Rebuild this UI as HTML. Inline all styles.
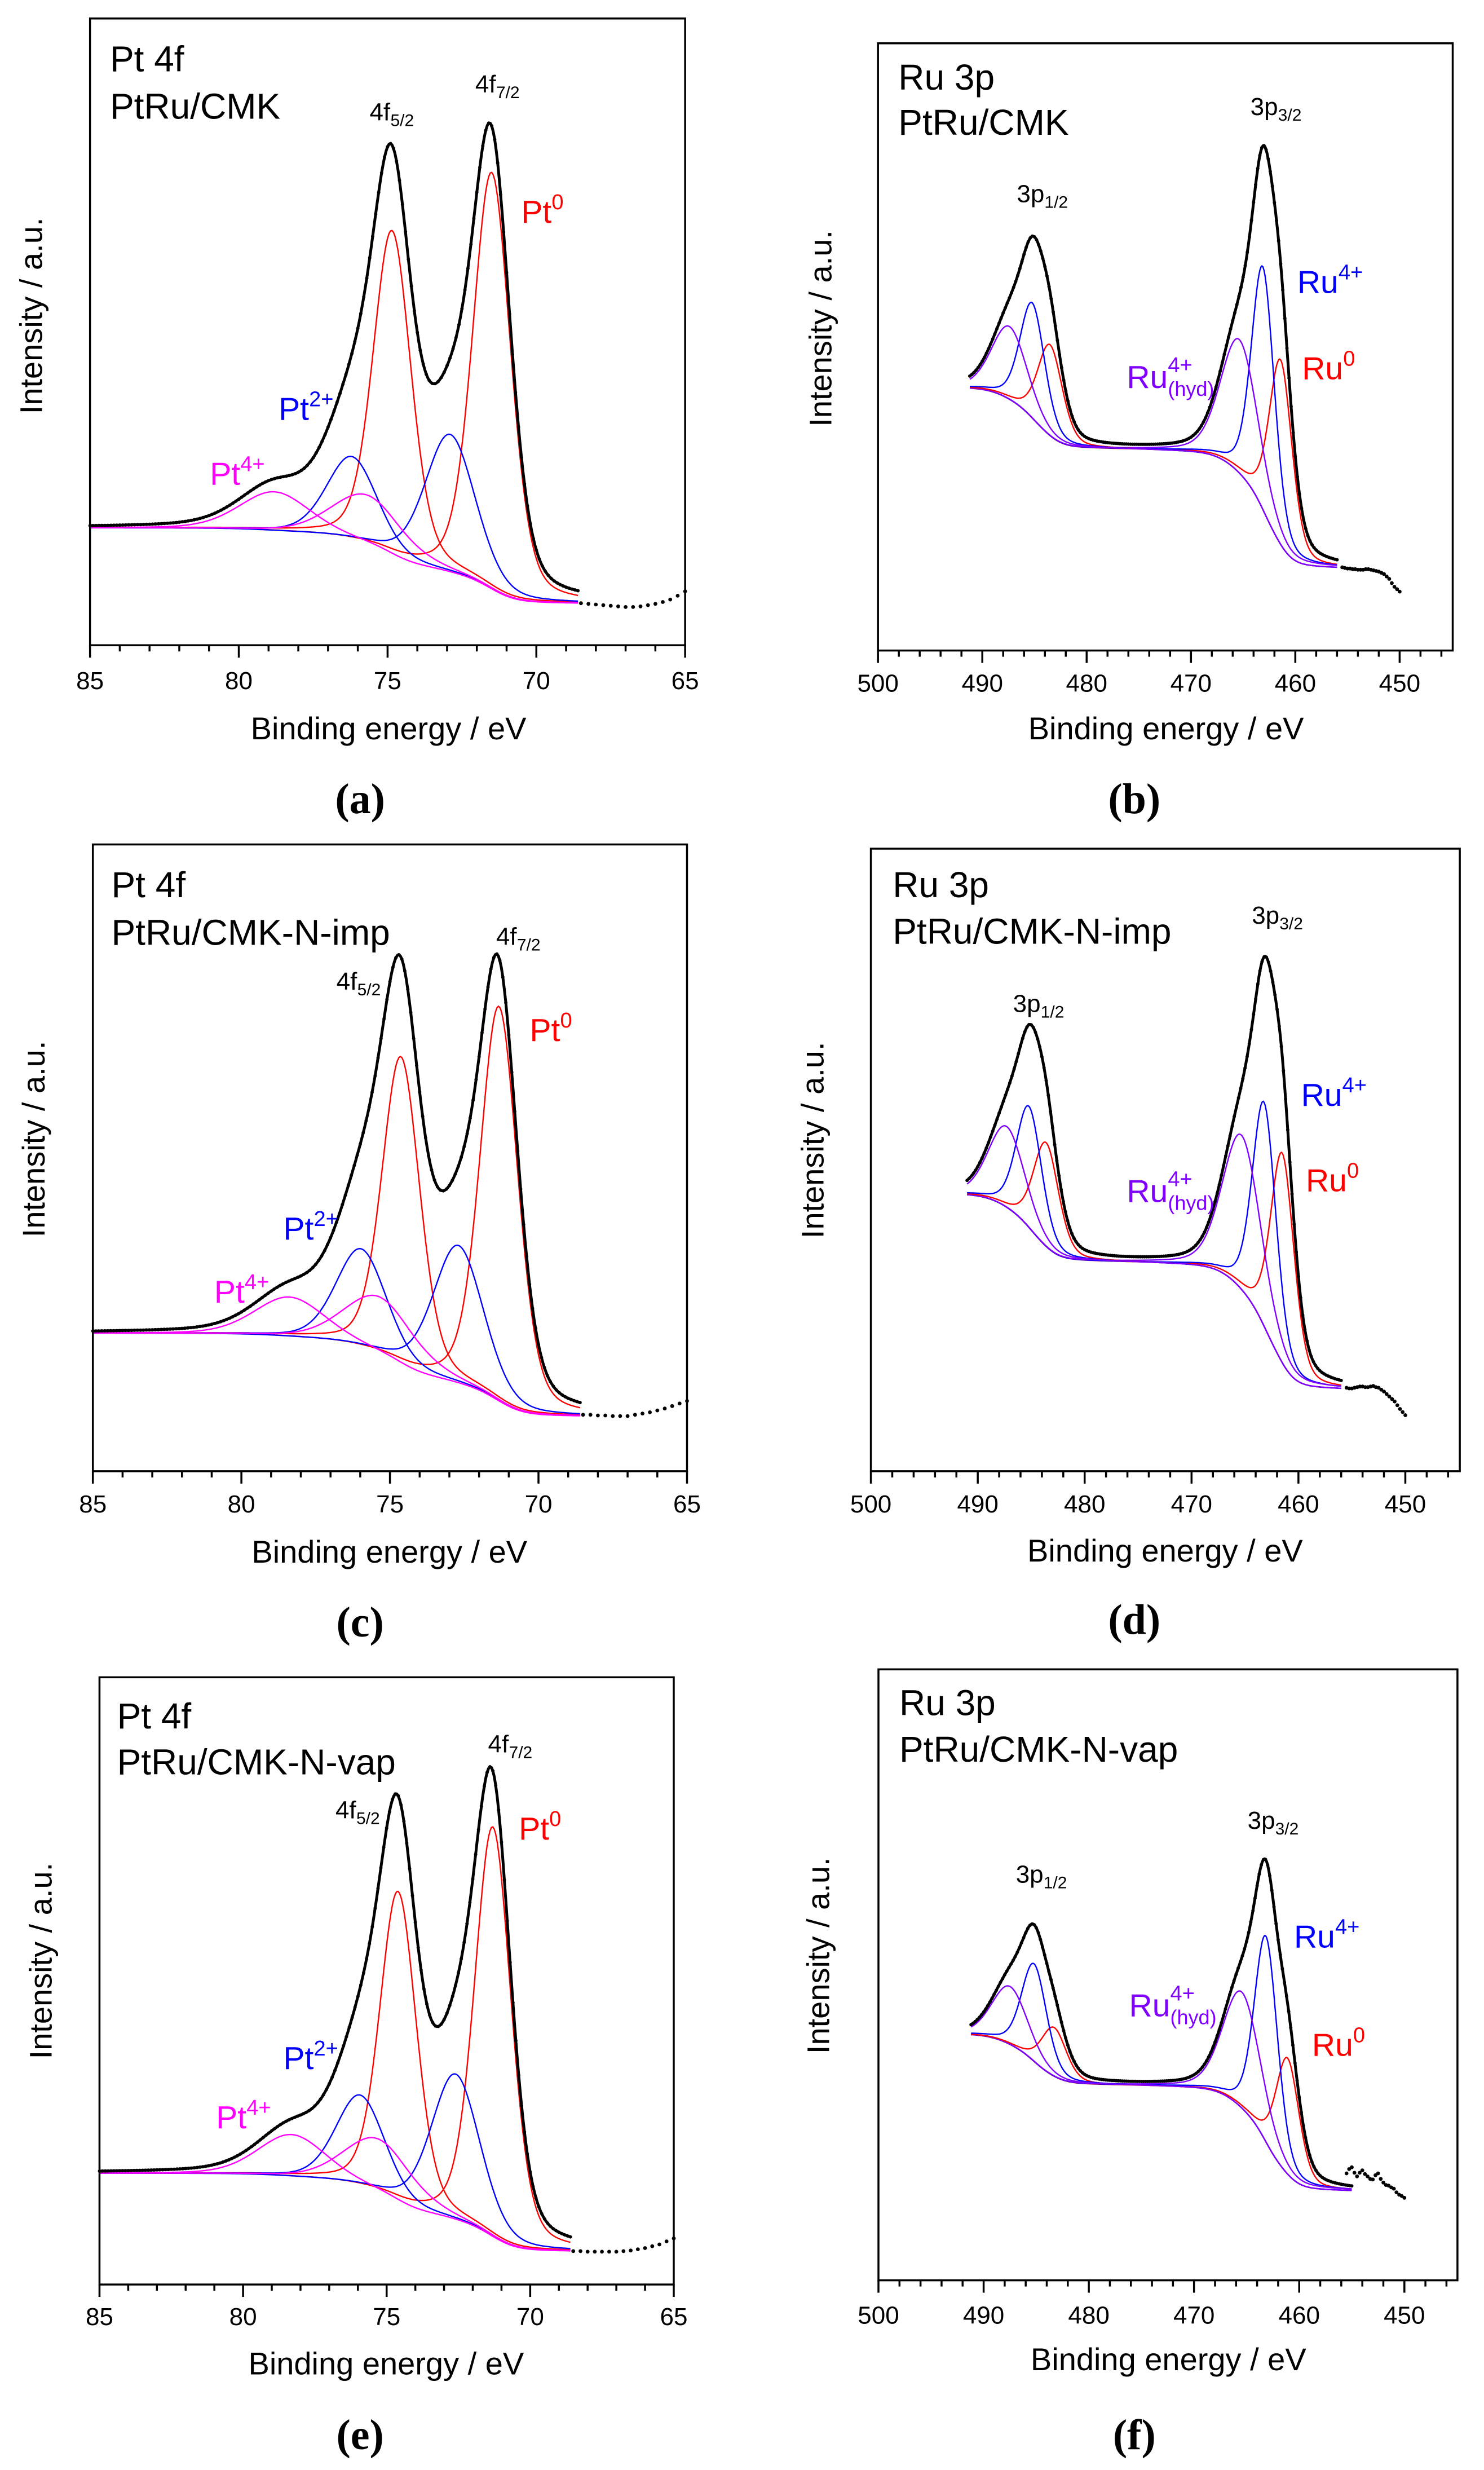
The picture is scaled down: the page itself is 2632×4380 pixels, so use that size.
<!DOCTYPE html>
<html><head><meta charset="utf-8">
<style>
html,body{margin:0;padding:0;background:#fff;}
svg{display:block;}
text{font-family:"Liberation Sans",Arial,sans-serif;}
.serif{font-family:"Liberation Serif","Times New Roman",serif;font-weight:bold;}
</style></head>
<body>
<svg id="fig" xmlns="http://www.w3.org/2000/svg" width="2632" height="4380" viewBox="0 0 2632 4380">
<rect x="0" y="0" width="2632" height="4380" fill="#fff"/>
</svg>
<script>
// ---------- DATA ----------
const ptMajorTicks = [85, 80, 75, 70, 65];
const ruMajorTicks = [500, 490, 480, 470, 460, 450];
const ptTailE = [68.5, 68.25, 68, 67.75, 67.5, 67.25, 67, 66.75, 66.5, 66.25, 66, 65.75, 65.5, 65.25, 65];
const ruTailE = [455.5, 455.25, 455, 454.75, 454.5, 454.25, 454, 453.75, 453.5, 453.25, 453, 452.75, 452.5, 452.25, 452, 451.75, 451.5, 451.25, 451, 450.75, 450.5, 450.25, 450];

// Pt 4f components: [Pt0 7/2, Pt0 5/2, Pt2+ 7/2, Pt2+ 5/2, Pt4+ 7/2, Pt4+ 5/2]
const a_centers = [71.5, 74.85, 72.9, 76.2, 75.7, 78.8];
const a_heights = [66.5, 51.7, 22, 13.3, 7.8, 6.3];
const a_fwhm = [1.5, 1.5, 2.0, 2.0, 2.8, 2.8];
const a_bg = [18.7, 6.7];
const a_tail = [6.7, 6.6, 6.5, 6.4, 6.3, 6.2, 6.1, 6.1, 6.2, 6.4, 6.6, 6.9, 7.3, 7.9, 8.6];

const c_centers = [71.33, 74.63, 72.7, 75.97, 75.37, 78.37];
const c_heights = [63, 49, 22, 15.7, 9, 6.4];
const c_fwhm = [1.5, 1.5, 2.0, 2.0, 2.8, 2.8];
const c_bg = [22, 8.8];
const c_tail = [9.0, 9.0, 8.9, 8.9, 8.8, 8.8, 8.8, 9.0, 9.2, 9.4, 9.7, 10.0, 10.4, 10.8, 11.2];

const e_centers = [71.3, 74.6, 72.6, 75.92, 75.3, 78.3];
const e_heights = [67.5, 51, 24, 15, 8.7, 7];
const e_fwhm = [1.5, 1.5, 2.0, 2.0, 2.8, 2.8];
const e_bg = [18.3, 5.5];
const e_tail = [5.5, 5.5, 5.4, 5.4, 5.4, 5.4, 5.4, 5.5, 5.6, 5.8, 6.0, 6.3, 6.6, 7.1, 7.6];

// Ru 3p components: [Ru0 3/2, Ru4+ 3/2, Ru4+hyd 3/2, Ru0 1/2, Ru4+ 1/2, Ru4+hyd 1/2]
const b_centers = [461.4, 463.1, 465.35, 483.5, 485.2, 487.4];
const b_heights = [30.4, 40, 22, 15, 19, 12];
const b_fwhm = [2.6, 2.6, 4.2, 2.8, 2.8, 4.0];
const b_bg = [43.2, 13.7];
const b_tail = [13.7, 13.6, 13.5, 13.5, 13.4, 13.4, 13.3, 13.3, 13.3, 13.4, 13.4, 13.3, 13.2, 13.1, 13.0, 12.8, 12.6, 12.2, 11.8, 11.1, 10.5, 10.1, 9.7];

const d_centers = [461.5, 463.2, 465.3, 483.6, 485.2, 487.3];
const d_heights = [33.7, 36, 24.8, 16.7, 19.5, 13];
const d_fwhm = [2.6, 2.6, 4.2, 2.8, 2.8, 4.0];
const d_bg = [44.4, 13.3];
const d_tail = [13.4, 13.3, 13.3, 13.4, 13.5, 13.6, 13.6, 13.5, 13.5, 13.6, 13.7, 13.5, 13.4, 13.1, 12.8, 12.4, 12.0, 11.6, 11.2, 10.6, 10.0, 9.5, 9.0];

const f_centers = [461.1, 463.15, 465.45, 483.3, 485.2, 487.5];
const f_heights = [19, 33.7, 19, 8, 16, 9.5];
const f_fwhm = [2.6, 2.6, 4.2, 2.8, 2.8, 4.0];
const f_bg = [40.2, 14.7];
const f_tail = [17.5, 18.2, 18.5, 17.6, 17, 17.6, 18, 17.4, 17, 16.6, 16.5, 17.2, 17.5, 16.6, 16, 15.6, 15.5, 15.2, 15, 14.4, 14, 13.8, 13.5];

// ---------- STYLE / LAYOUT ----------
const SX = 1.19, SY = 1.068;
const ptColors = ['#ff0000', '#ff0000', '#0000ff', '#0000ff', '#ff00ff', '#ff00ff'];
const ruColors = ['#ff0000', '#0000ff', '#8000ff', '#ff0000', '#0000ff', '#8000ff'];
const ptNames = ['pt0-4f72', 'pt0-4f52', 'pt2-4f72', 'pt2-4f52', 'pt4-4f72', 'pt4-4f52'];
const ruNames = ['ru0-3p32', 'ru4-3p32', 'ru4hyd-3p32', 'ru0-3p12', 'ru4-3p12', 'ru4hyd-3p12'];

const NS = 'http://www.w3.org/2000/svg';
const svg = document.getElementById('fig');

function named(el, name) {
  
  
  return el;
}
function mk(tag, attrs, parent) {
  const el = document.createElementNS(NS, tag);
  for (const k in attrs) el.setAttribute(k, attrs[k]);
  (parent || svg).appendChild(el);
  return el;
}
function txt(parent, x, y, s, size, fill, anchor, name, cls) {
  const t = mk('text', {x: x, y: y, 'font-size': size, fill: fill || '#000', 'text-anchor': anchor || 'start'}, parent);
  if (cls) t.setAttribute('class', cls);
  t.textContent = s;
  named(t, name);
  return t;
}
function profile(E, c, h, w) {
  const x = E - c, eta = 0.3;
  return h * ((1 - eta) * Math.exp(-4 * Math.LN2 * x * x / (w * w)) + eta / (1 + 4 * x * x / (w * w)));
}

const panels = [
  {id: 'a', ox: 0, oy: 0, fr: [190, 35, 1446, 1222], type: 'pt', e0: 85, p1: [65, 1446], c: a_centers, h: a_heights, w: a_fwhm, bg: a_bg, tail: a_tail,
   fit: [68.6, 85], t1: 'Pt 4f', t2: 'PtRu/CMK', tp: [232, 135, 225], tickY: 1305, ytc: [65, 598], xtc: [820, 1400], lab: [760, 1540],
   sp1: [780, 228], sp2: [1003, 175], s0: [1100, 422], s2: [588, 795], s4: [443, 918]},
  {id: 'b', ox: 1316, oy: 0, fr: [287, 82, 1500, 1232], type: 'ru', e0: 500, p1: [450, 1388], c: b_centers, h: b_heights, w: b_fwhm, bg: b_bg, tail: b_tail,
   fit: [456, 491.2], t1: 'Ru 3p', t2: 'PtRu/CMK', tp: [330, 170, 255], tickY: 1310, ytc: [165, 622], xtc: [895, 1400], lab: [828, 1540],
   sp1: [580, 383], sp2: [1073, 218], s0: [1182, 718], s2: [1172, 555], s4: [812, 735]},
  {id: 'c', ox: 0, oy: 1460, fr: [196, 40, 1450, 1227], type: 'pt', e0: 85, p1: [65, 1450], c: c_centers, h: c_heights, w: c_fwhm, bg: c_bg, tail: c_tail,
   fit: [68.6, 85], t1: 'Pt 4f', t2: 'PtRu/CMK-N-imp', tp: [235, 140, 230], tickY: 1305, ytc: [70, 598], xtc: [822, 1400], lab: [760, 1540],
   sp1: [710, 315], sp2: [1047, 230], s0: [1118, 412], s2: [598, 788], s4: [452, 908]},
  {id: 'd', ox: 1316, oy: 1460, fr: [272, 48, 1515, 1227], type: 'ru', e0: 500, p1: [450, 1400], c: d_centers, h: d_heights, w: d_fwhm, bg: d_bg, tail: d_tail,
   fit: [456, 491], t1: 'Ru 3p', t2: 'PtRu/CMK-N-imp', tp: [318, 140, 228], tickY: 1305, ytc: [148, 600], xtc: [893, 1398], lab: [828, 1535],
   sp1: [572, 357], sp2: [1076, 190], s0: [1190, 697], s2: [1180, 535], s4: [812, 717]},
  {id: 'e', ox: 0, oy: 2920, fr: [210, 58, 1422, 1208], type: 'pt', e0: 85, p1: [65, 1422], c: e_centers, h: e_heights, w: e_fwhm, bg: e_bg, tail: e_tail,
   fit: [68.6, 85], t1: 'Pt 4f', t2: 'PtRu/CMK-N-vap', tp: [247, 155, 242], tickY: 1285, ytc: [85, 595], xtc: [815, 1378], lab: [760, 1520],
   sp1: [708, 325], sp2: [1030, 200], s0: [1095, 365], s2: [598, 800], s4: [456, 912]},
  {id: 'f', ox: 1316, oy: 2920, fr: [288, 43, 1510, 1200], type: 'ru', e0: 500, p1: [450, 1398], c: f_centers, h: f_heights, w: f_fwhm, bg: f_bg, tail: f_tail,
   fit: [455, 491.2], t1: 'Ru 3p', t2: 'PtRu/CMK-N-vap', tp: [332, 130, 218], tickY: 1282, ytc: [160, 585], xtc: [900, 1370], lab: [828, 1520],
   sp1: [578, 447], sp2: [1067, 345], s0: [1203, 775], s2: [1165, 570], s4: [817, 700]}
];

panels.forEach(P => {
  const FX = zx => P.ox + zx / SX;
  const FY = zy => P.oy + zy / SY;
  const L = FX(P.fr[0]), T = FY(P.fr[1]), R = FX(P.fr[2]), B = FY(P.fr[3]);
  const xAt1 = FX(P.p1[1]);
  const pxPerE = (xAt1 - L) / (P.e0 - P.p1[0]);
  const xs = E => L + (P.e0 - E) * pxPerE;
  const ys = v => B - v / 100 * (B - T);
  const isPt = P.type === 'pt';
  const colors = isPt ? ptColors : ruColors;
  const cnames = isPt ? ptNames : ruNames;

  const g = mk('g', {});
  named(g, 'panel-' + P.id);

  const step = isPt ? 0.05 : 0.1;
  const grid = [];
  for (let E = P.fit[0]; E <= P.fit[1] + 1e-9; E += step) grid.push(E);
  const sum = grid.map(E => P.c.reduce((s, c, i) => s + profile(E, c, P.h[i], P.w[i]), 0));
  const cum = [0];
  for (let i = 1; i < grid.length; i++) cum.push(cum[i - 1] + (sum[i] + sum[i - 1]) / 2);
  const tot = cum[cum.length - 1];
  const bgv = cum.map(a => P.bg[1] + (P.bg[0] - P.bg[1]) * a / tot);

  P.c.forEach((c, i) => {
    let d = '';
    grid.forEach((E, k) => {
      const v = bgv[k] + profile(E, c, P.h[i], P.w[i]);
      d += (k ? 'L' : 'M') + xs(E).toFixed(1) + ' ' + ys(v).toFixed(1);
    });
    const p = mk('path', {d: d, fill: 'none', stroke: colors[i], 'stroke-width': 2.4}, g);
    named(p, 'component-' + cnames[i]);
  });

  const dg = mk('g', {fill: '#000'}, g);
  named(dg, 'data-points');
  grid.forEach((E, k) => {
    if (k % 2) return;
    const v = bgv[k] + sum[k];
    const dot = mk('circle', {cx: xs(E).toFixed(1), cy: ys(v).toFixed(1), r: 3}, dg);
    named(dot, 'data-point');
  });
  const tailE = isPt ? ptTailE : ruTailE;
  tailE.forEach((E, i) => {
    const dot = mk('circle', {cx: xs(E).toFixed(1), cy: ys(P.tail[i]).toFixed(1), r: 3.4}, dg);
    named(dot, 'data-point-tail');
  });

  let d = '';
  grid.forEach((E, k) => {
    d += (k ? 'L' : 'M') + xs(E).toFixed(1) + ' ' + ys(bgv[k] + sum[k]).toFixed(1);
  });
  const env = mk('path', {d: d, fill: 'none', stroke: '#000', 'stroke-width': 5, 'stroke-linejoin': 'round'}, g);
  named(env, 'envelope-fit');

  const fr = mk('rect', {x: L, y: T, width: R - L, height: B - T, fill: 'none', stroke: '#000', 'stroke-width': 3.5}, g);
  named(fr, 'plot-frame');

  const tg = mk('g', {stroke: '#000', 'stroke-width': 3.5}, g);
  named(tg, 'x-axis-ticks');
  const majors = isPt ? ptMajorTicks : ruMajorTicks;
  const minorStep = isPt ? 1 : 2;
  const eRight = P.e0 - (R - L) / pxPerE;
  for (let E = P.e0; E >= eRight - 1e-6; E -= minorStep) {
    const major = majors.indexOf(Math.round(E)) >= 0;
    const x = xs(E);
    if (x > R + 1) break;
    const tk = mk('line', {x1: x, y1: B, x2: x, y2: B + (major ? 22 : 11)}, tg);
    named(tk, major ? 'major-tick' : 'minor-tick');
  }
  majors.forEach(v => {
    txt(g, xs(v), FY(P.tickY), String(v), 44, '#000', 'middle', 'x-tick-label');
  });

  txt(g, FX(P.xtc[0]), FY(P.xtc[1]), 'Binding energy / eV', 56, '#000', 'middle', 'x-axis-title');
  const yx = FX(P.ytc[0]) + 20, yy = FY(P.ytc[1]);
  const yt = txt(g, yx, yy, 'Intensity / a.u.', 56, '#000', 'middle', 'y-axis-title');
  yt.setAttribute('transform', 'rotate(-90 ' + yx + ' ' + yy + ')');

  txt(g, FX(P.tp[0]), FY(P.tp[1]), P.t1, 64, '#000', 'start', 'panel-title-core-level');
  txt(g, FX(P.tp[0]), FY(P.tp[2]), P.t2, 64, '#000', 'start', 'panel-title-sample');

  const lead = isPt ? '4f' : '3p';
  const leadW = isPt ? 37 : 49;
  const sub1 = isPt ? '5/2' : '1/2';
  const sub2 = isPt ? '7/2' : '3/2';
  [[P.sp1, sub1], [P.sp2, sub2]].forEach(([pos, sub]) => {
    const x = FX(pos[0]), y = FY(pos[1]);
    txt(g, x, y, lead, 44, '#000', 'start', 'peak-label-' + lead);
    txt(g, x + leadW, y + 10, sub, 30, '#000', 'start', 'peak-label-subscript');
  });
  if (isPt) {
    const pl = [[P.s0, '0', '#ff0000', 'pt0'], [P.s2, '2+', '#0000ff', 'pt2plus'], [P.s4, '4+', '#ff00ff', 'pt4plus']];
    pl.forEach(([pos, sup, col, nm]) => {
      const x = FX(pos[0]), y = FY(pos[1]);
      txt(g, x, y, 'Pt', 57, col, 'start', 'species-label-' + nm);
      txt(g, x + 54, y - 24, sup, 38, col, 'start', 'species-label-superscript');
    });
  } else {
    const pl = [[P.s0, '0', '#ff0000', 'ru0'], [P.s2, '4+', '#0000ff', 'ru4plus']];
    pl.forEach(([pos, sup, col, nm]) => {
      const x = FX(pos[0]), y = FY(pos[1]);
      txt(g, x, y, 'Ru', 57, col, 'start', 'species-label-' + nm);
      txt(g, x + 73, y - 24, sup, 38, col, 'start', 'species-label-superscript');
    });
    const x = FX(P.s4[0]), y = FY(P.s4[1]);
    txt(g, x, y, 'Ru', 57, '#8000ff', 'start', 'species-label-ru4plus-hyd');
    txt(g, x + 73, y - 28, '4+', 38, '#8000ff', 'start', 'species-label-superscript');
    txt(g, x + 73, y + 14, '(hyd)', 36, '#8000ff', 'start', 'species-label-subscript');
  }

  const lt = mk('text', {x: FX(P.lab[0]), y: FY(P.lab[1]), 'font-size': 76, 'text-anchor': 'middle', class: 'serif', fill: '#000'}, g);
  lt.textContent = '(' + P.id + ')';
  named(lt, 'panel-letter-' + P.id);
});
</script>
</body></html>
